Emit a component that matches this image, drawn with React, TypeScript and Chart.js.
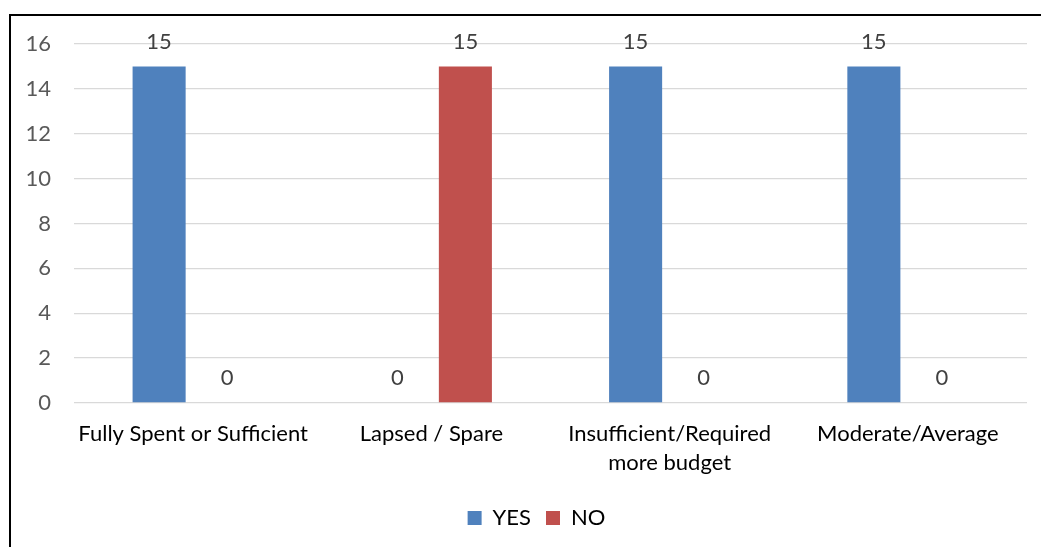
import React, { useEffect, useRef } from "react";
import { Chart, registerables } from "chart.js";
Chart.register(...registerables);

const categories: string[][] = [
  ["Fully Spent or Sufficient"],
  ["Lapsed / Spare"],
  ["Insufficient/Required", "more budget"],
  ["Moderate/Average"],
];
const yesValues = [15, 0, 15, 15];
const noValues = [0, 15, 0, 0];
const seriesNames = ["YES", "NO"];
const yMin = 0;
const yMax = 16;
const yStep = 2;

const FONT = "Lato, 'Open Sans', sans-serif";
const FS = 22;

const valueLabels = {
  id: "valueLabels",
  afterDatasetsDraw(chart: any) {
    const ctx = chart.ctx;
    ctx.save();
    ctx.font = `${FS}px ${FONT}`;
    ctx.fillStyle = "#404040";
    ctx.textAlign = "center";
    ctx.textBaseline = "middle";
    chart.data.datasets.forEach((ds: any, i: number) => {
      const meta = chart.getDatasetMeta(i);
      meta.data.forEach((bar: any, j: number) => {
        ctx.fillText(String(ds.data[j]), bar.x, bar.y - 25);
      });
    });
    ctx.restore();
  },
};

// Centre the legend within the (wider) frame area, as in the reference.
const legendShift = {
  id: "legendShift",
  afterLayout(chart: any) {
    if (chart.legend) {
      chart.legend.left = 46;
    }
  },
};

export default function App() {
  const ref = useRef<HTMLCanvasElement | null>(null);
  useEffect(() => {
    document.body.style.margin = "0";
    const chart = new Chart(ref.current as HTMLCanvasElement, {
      type: "bar",
      data: {
        labels: categories,
        datasets: [
          {
            label: seriesNames[0],
            data: yesValues,
            backgroundColor: "#4F81BD",
            categoryPercentage: 0.571,
            barPercentage: 0.78,
          },
          {
            label: seriesNames[1],
            data: noValues,
            backgroundColor: "#C0504D",
            categoryPercentage: 0.571,
            barPercentage: 0.78,
          },
        ],
      },
      options: {
        responsive: false,
        animation: false,
        layout: { padding: { left: 0, right: 14, top: 44, bottom: 8 } },
        plugins: {
          tooltip: { enabled: false },
          legend: {
            position: "bottom",
            labels: {
              boxWidth: 14,
              boxHeight: 14,
              color: "#000",
              font: { family: FONT, size: FS },
              padding: 15,
            },
          },
        },
        scales: {
          x: {
            grid: { display: false, drawTicks: false },
            border: { display: false },
            ticks: {
              color: "#000",
              font: { family: FONT, size: FS, lineHeight: 1.33 },
              padding: 16,
              maxRotation: 0,
              autoSkip: false,
            },
            afterFit(scale: any) {
              scale.height = 89;
            },
          },
          y: {
            min: yMin,
            max: yMax,
            grid: { color: "#d9d9d9", lineWidth: 1.3, drawTicks: false },
            border: { display: false },
            ticks: {
              stepSize: yStep,
              color: "#595959",
              font: { family: FONT, size: FS },
              padding: 23,
            },
            afterFit(scale: any) {
              scale.width = 74;
            },
          },
        },
      },
      plugins: [valueLabels, legendShift],
    });
    return () => chart.destroy();
  }, []);
  return (
    <div style={{ position: "fixed", left: 0, top: 0, width: 1041, height: 547, background: "#fff" }}>
      <canvas ref={ref} width={1041} height={547} style={{ position: "absolute", left: 0, top: 0 }} />
      <div
        style={{
          position: "absolute",
          left: 9,
          top: 14,
          width: 1100,
          height: 600,
          border: "2px solid #000",
          pointerEvents: "none",
        }}
      />
    </div>
  );
}
